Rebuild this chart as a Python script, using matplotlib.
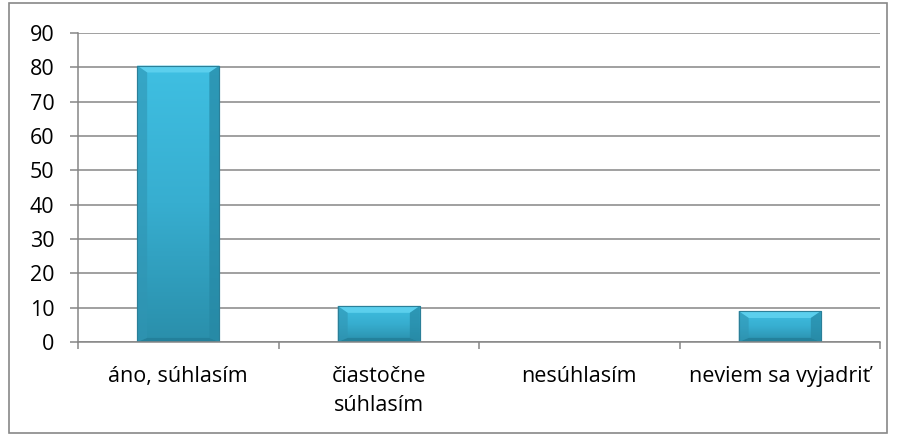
import numpy as np
import matplotlib.pyplot as plt
from matplotlib.patches import Rectangle, Polygon
from matplotlib.colors import LinearSegmentedColormap

categories = ["áno, súhlasím", "čiastočne\nsúhlasím", "nesúhlasím", "neviem sa vyjadriť"]
values = [80.5, 10.5, 0, 9.0]
yticks = [0, 10, 20, 30, 40, 50, 60, 70, 80, 90]

plt.rcParams['font.family'] = ['Open Sans', 'DejaVu Sans']

W, H = 897, 438
fig = plt.figure(figsize=(W / 100, H / 100), dpi=100)
ax = fig.add_axes([78 / W, 1 - 342 / H, 802 / W, 309 / H])

# outer frame of the chart area
fig.patches.append(Rectangle((9 / W, 5 / H), 878 / W, 430 / H, transform=fig.transFigure,
                             fill=False, edgecolor='#888888', linewidth=1.2))

x = np.arange(len(categories))
width = 0.41
grad = np.linspace(0, 1, 100).reshape(-1, 1)
cmap = LinearSegmentedColormap.from_list('b', ['#2a8fab', '#37aed0', '#3fbfe2'])

for xi, v in zip(x, values):
    if v <= 0:
        continue
    l, r = xi - width / 2, xi + width / 2
    bar = ax.bar(xi, v, width, color='#3bb9dc', edgecolor='#2d8aa6', linewidth=0.8, zorder=2)[0]
    im = ax.imshow(grad, extent=(l, r, 0, v), origin='lower', cmap=cmap, aspect='auto', zorder=2.1)
    im.set_clip_path(bar)
    # bevel edges
    dx = 0.05
    dy = min(v * 0.25, 2.0)
    ax.add_patch(Polygon([(l, v), (r, v), (r - dx, v - dy), (l + dx, v - dy)], closed=True,
                         facecolor='#5fd2ef', edgecolor='none', alpha=0.9, zorder=2.2))
    ax.add_patch(Polygon([(l, 0), (r, 0), (r - dx, dy * 0.6), (l + dx, dy * 0.6)], closed=True,
                         facecolor='#227d97', edgecolor='none', alpha=0.8, zorder=2.2))
    ax.add_patch(Polygon([(l, 0), (l, v), (l + dx, v - dy), (l + dx, dy * 0.6)], closed=True,
                         facecolor='#3095b3', edgecolor='none', alpha=0.6, zorder=2.2))
    ax.add_patch(Polygon([(r, 0), (r, v), (r - dx, v - dy), (r - dx, dy * 0.6)], closed=True,
                         facecolor='#2688a4', edgecolor='none', alpha=0.7, zorder=2.2))
    ax.add_patch(Rectangle((l, 0), width, v, fill=False, edgecolor='#2b7f98', linewidth=0.8, zorder=2.3))

ax.set_xlim(-0.5, len(categories) - 0.5)
ax.set_ylim(0, 90)
ax.set_yticks(yticks)
ax.set_yticklabels([str(t) for t in yticks], fontsize=15.5)
ax.yaxis.grid(True, color='#868686', linewidth=1.1)
ax.set_axisbelow(True)

ax.set_xticks(np.arange(len(categories) + 1) - 0.5, minor=True)
ax.set_xticks(x)
ax.set_xticklabels(categories, fontsize=15.5, va='top', linespacing=1.55)
ax.tick_params(axis='x', which='major', length=0, pad=17)
ax.tick_params(axis='x', which='minor', length=5, color='#868686', width=1.1)
ax.tick_params(axis='y', length=6, color='#868686', width=1.1, pad=11)

for s in ['top', 'right']:
    ax.spines[s].set_visible(False)
for s in ['left', 'bottom']:
    ax.spines[s].set_color('#868686')
    ax.spines[s].set_linewidth(1.1)

fig.savefig('out.png', dpi=100)
